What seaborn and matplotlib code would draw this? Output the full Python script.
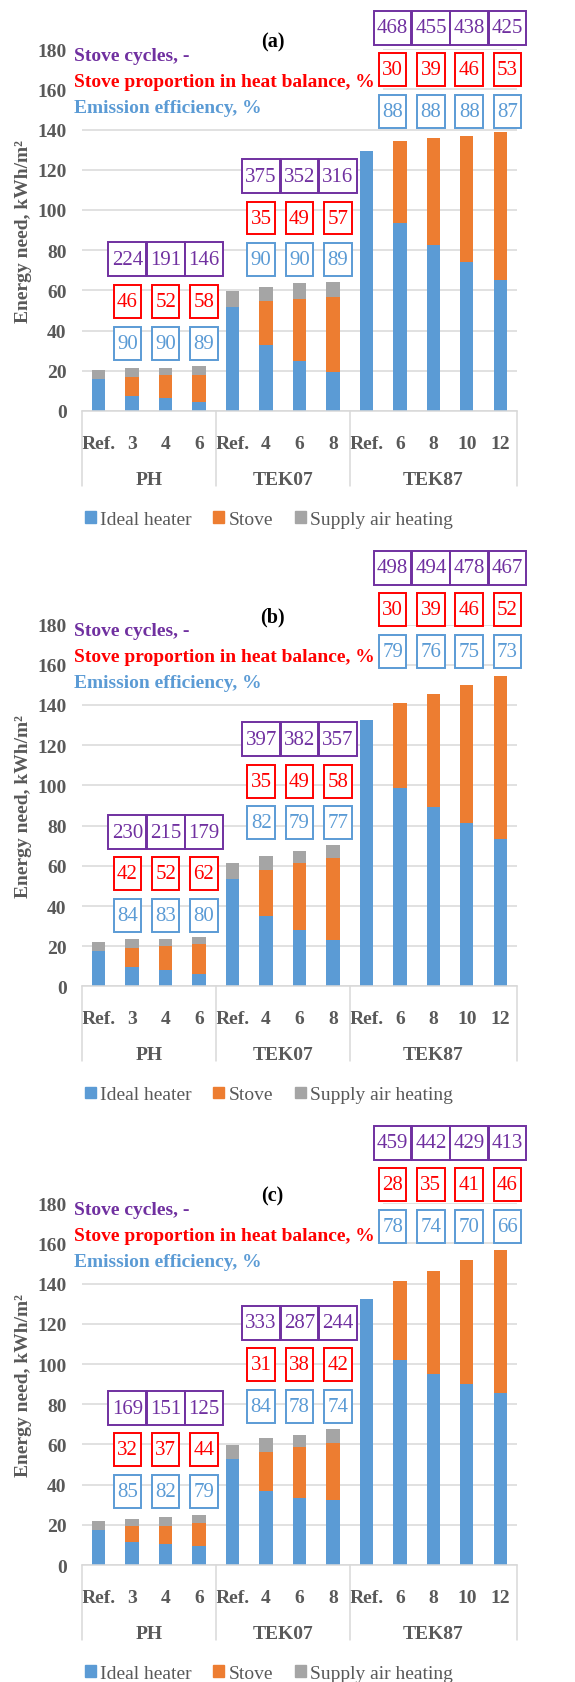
import matplotlib.pyplot as plt
import numpy as np
import pandas as pd
import seaborn as sns
from matplotlib.patches import Patch, Rectangle

# categories
groups = ['PH', 'TEK07', 'TEK87']
group_sizes = [4, 4, 5]
cases = ['Ref.', '3', '4', '6', 'Ref.', '4', '6', '8', 'Ref.', '6', '8', '10', '12']
series_names = ['Ideal heater', 'Stove', 'Supply air heating']

# (a) energy need, kWh/m2
ideal_a = [15.8, 7.3, 6.5, 4.5, 51.8, 32.7, 24.8, 19.5, 129.1, 93.4, 82.8, 74.2, 65.3]
stove_a = [0, 9.5, 11.3, 13.3, 0, 21.8, 30.7, 37.0, 0, 40.8, 53.2, 62.8, 73.4]
supply_a = [4.5, 4.4, 3.4, 4.4, 8.0, 7.0, 8.0, 7.7, 0, 0, 0, 0, 0]
cycles_a = [[224, 191, 146], [375, 352, 316], [468, 455, 438, 425]]
share_a = [[46, 52, 58], [35, 49, 57], [30, 39, 46, 53]]
eff_a = [[90, 90, 89], [90, 90, 89], [88, 88, 88, 87]]

# (b)
ideal_b = [17.8, 9.8, 8.0, 6.3, 53.3, 35.2, 28.2, 23.0, 132.3, 98.5, 89.1, 81.1, 73.3]
stove_b = [0, 9.5, 12.3, 14.9, 0, 22.6, 33.3, 40.8, 0, 42.6, 56.3, 68.8, 80.9]
supply_b = [4.2, 4.5, 3.5, 3.5, 8.2, 7.0, 6.0, 6.4, 0, 0, 0, 0, 0]
cycles_b = [[230, 215, 179], [397, 382, 357], [498, 494, 478, 467]]
share_b = [[42, 52, 62], [35, 49, 58], [30, 39, 46, 52]]
eff_b = [[84, 83, 80], [82, 79, 77], [79, 76, 75, 73]]

# (c)
ideal_c = [17.5, 11.5, 10.5, 9.7, 52.5, 37.0, 33.3, 32.5, 132.5, 102.2, 95.0, 89.9, 85.6]
stove_c = [0, 7.8, 8.8, 11.3, 0, 19.2, 25.4, 28.0, 0, 38.9, 51.4, 61.7, 71.3]
supply_c = [4.3, 3.5, 4.5, 3.7, 7.0, 7.0, 6.1, 7.0, 0, 0, 0, 0, 0]
cycles_c = [[169, 151, 125], [333, 287, 244], [459, 442, 429, 413]]
share_c = [[32, 37, 44], [31, 38, 42], [28, 35, 41, 46]]
eff_c = [[85, 82, 79], [84, 78, 74], [78, 74, 70, 66]]

# layout: height (data units) of the top row of boxes for each group
box_tops_a = [75.4, 116.8, 190.7]
box_tops_b = [76.8, 122.9, 208.2]
box_tops_c = [78.1, 120.5, 210.0]

BLUE = '#5B9BD5'
ORANGE = '#ED7D31'
GRAY = '#A5A5A5'
PURPLE = '#7030A0'
RED = '#FF0000'
TXT = '#595959'
GRID = '#D9D9D9'

sns.set_theme(style='white')
plt.rcParams['font.family'] = ['Liberation Serif', 'DejaVu Serif']


def draw_panel(ax, tag, ideal, stove, supply, cycles, share, eff, box_tops):
    df = pd.DataFrame({'pos': range(len(cases)), 'ideal': ideal, 'stove': stove, 'supply': supply})
    df['ideal_stove'] = df['ideal'] + df['stove']
    df['total'] = df['ideal_stove'] + df['supply']

    # stacked look: draw totals first, then cover with the lower parts
    for col, color in [('total', GRAY), ('ideal_stove', ORANGE), ('ideal', BLUE)]:
        sns.barplot(data=df, x='pos', y=col, color=color, width=0.4, saturation=1,
                    linewidth=0, errorbar=None, ax=ax)

    ax.grid(axis='y', color=GRID, lw=1.1)
    ax.set_axisbelow(True)
    for side in ['left', 'top', 'right']:
        ax.spines[side].set_visible(False)
    ax.spines['bottom'].set_color(GRID)
    ax.spines['bottom'].set_linewidth(1.1)

    ax.tick_params(axis='both', length=0)
    ax.tick_params(axis='y', pad=11)
    ax.tick_params(axis='x', pad=17)
    ax.set_xticks(range(len(cases)))
    ax.set_xticklabels(cases, fontweight='bold', color=TXT, fontsize=14)
    ax.set_yticks(range(0, 181, 20))
    ax.set_yticklabels([str(t) for t in range(0, 181, 20)], fontweight='bold', color=TXT, fontsize=14)
    ax.set_xlabel('')
    ax.set_ylabel('Energy need, kWh/m²', fontweight='bold', color=TXT, fontsize=14)
    ax.yaxis.set_label_coords(-0.115, 0.5)

    # group labels and separators under the axis
    trans = ax.get_xaxis_transform()
    bounds = np.cumsum([0] + group_sizes)
    for g, s, e in zip(groups, bounds[:-1], bounds[1:]):
        ax.annotate(g, xy=((s + e - 1) / 2, 0), xycoords=trans, xytext=(0, -49),
                    textcoords='offset points', ha='center', va='center',
                    fontweight='bold', color=TXT, fontsize=14)
    for b in bounds:
        ax.plot([b - 0.5, b - 0.5], [0, -0.207], transform=trans, color=GRID, lw=1.1,
                clip_on=False, scalex=False, scaley=False)

    ax.set_xlim(-0.5, len(cases) - 0.5)
    ax.set_ylim(0, 180)

    # white text box of the heading lines (covers the grid)
    ax.add_patch(Rectangle((-0.5, 144), 9.0, 40, fc='white', ec='none', zorder=1.5))
    heads = [('Stove cycles, -', PURPLE), ('Stove proportion in heat balance, %', RED),
             ('Emission efficiency, %', BLUE)]
    for (txt, color), y in zip(heads, [177, 164, 151]):
        ax.text(-0.74, y, txt, ha='left', va='center', color=color, fontweight='bold',
                fontsize=14, zorder=3, clip_on=False)

    ax.text(5.2, 184, f'({tag})', ha='center', va='center', fontsize=14.5,
            fontweight='bold', color='black', clip_on=False)

    # boxed values above each group
    rows = [(cycles, PURPLE, 1.13, 16.9), (share, RED, 0.82, 16.4), (eff, BLUE, 0.82, 16.4)]
    for gi in range(len(groups)):
        centre = np.mean(np.arange(bounds[gi] + 1, bounds[gi + 1]))
        n = len(cycles[gi])
        for r, (vals, color, w, h) in enumerate(rows):
            y = box_tops[gi] - r * 20.8
            for k, v in enumerate(vals[gi]):
                x = centre + (k - (n - 1) / 2) * 1.145
                ax.add_patch(Rectangle((x - w / 2, y - h / 2), w, h, fc='white', ec=color,
                                       lw=1.4, zorder=4, clip_on=False))
                ax.text(x, y, str(v), ha='center', va='center', color=color,
                        fontsize=15, zorder=5, clip_on=False)

    handles = [Patch(color=c) for c in [BLUE, ORANGE, GRAY]]
    ax.legend(handles, series_names, loc='center', bbox_to_anchor=(0.43, -0.30), ncol=3,
              frameon=False, fontsize=14, handlelength=0.55, handleheight=0.55,
              handletextpad=0.25, columnspacing=1.1, labelcolor=TXT)


fig = plt.figure(figsize=(5.75, 16.83), dpi=100)
ax_a = fig.add_axes([0.1426, 0.7552, 0.7565, 0.2150])
ax_b = fig.add_axes([0.1426, 0.4133, 0.7565, 0.2150])
ax_c = fig.add_axes([0.1426, 0.0695, 0.7565, 0.2150])

draw_panel(ax_a, 'a', ideal_a, stove_a, supply_a, cycles_a, share_a, eff_a, box_tops_a)
draw_panel(ax_b, 'b', ideal_b, stove_b, supply_b, cycles_b, share_b, eff_b, box_tops_b)
draw_panel(ax_c, 'c', ideal_c, stove_c, supply_c, cycles_c, share_c, eff_c, box_tops_c)

fig.savefig('out.png', dpi=100)
